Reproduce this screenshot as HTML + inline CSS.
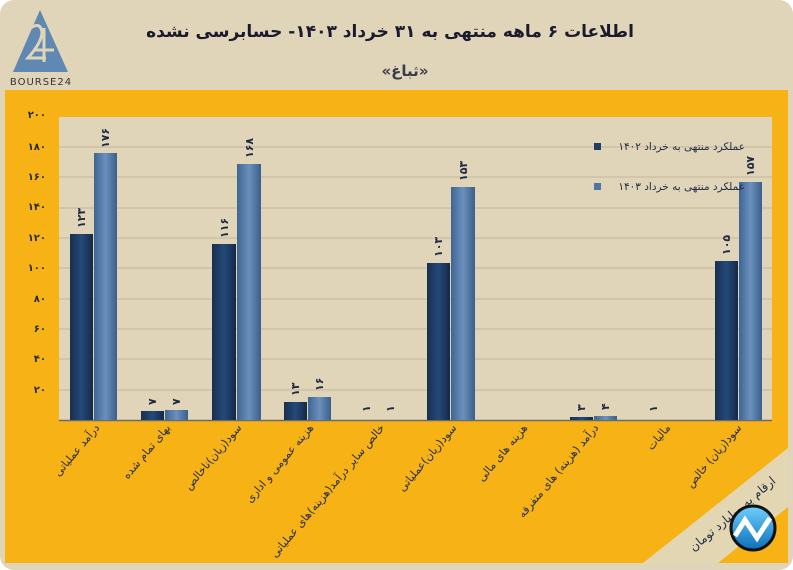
<!DOCTYPE html>
<html><head><meta charset="utf-8"><style>
html,body{margin:0;padding:0;background:#fff}
svg{display:block}
text{font-family:"DejaVu Sans","Liberation Sans",sans-serif}
</style></head><body>
<svg width="793" height="570" viewBox="0 0 793 570" xmlns="http://www.w3.org/2000/svg">
<defs>
<linearGradient id="gd" x1="0" x2="1" y1="0" y2="0">
<stop offset="0" stop-color="#17304f"/><stop offset="0.5" stop-color="#24497a"/><stop offset="1" stop-color="#142a46"/></linearGradient>
<linearGradient id="gl" x1="0" x2="1" y1="0" y2="0">
<stop offset="0" stop-color="#3f6592"/><stop offset="0.5" stop-color="#6b90bd"/><stop offset="1" stop-color="#3a5f8a"/></linearGradient>
<linearGradient id="gc" x1="0" x2="0" y1="0" y2="1">
<stop offset="0" stop-color="#6fd0ff"/><stop offset="1" stop-color="#0a6fb8"/></linearGradient>
</defs>
<rect x="0" y="0" width="793" height="570" rx="14" fill="#e0d5b8"/>
<rect x="5" y="90" width="783" height="473" fill="#f7b216"/>
<polygon points="788,448 788,507 718,563 643,563" fill="#e3d6b3"/>
<polygon points="40,10 13,72 68,72" fill="#5f88b3"/>
<path d="M28,30 Q40,20 42,32 Q42,42 28,58 L46,58 M44,28 L44,62 M34,50 L54,50" stroke="#e0d5b8" stroke-width="3" fill="none"/>
<text x="41" y="85" font-size="10" fill="#333" text-anchor="middle" letter-spacing="1">BOURSE24</text>
<text x="390" y="37" font-size="17" font-weight="bold" fill="#1a1a2e" text-anchor="middle" direction="rtl">اطلاعات ۶ ماهه منتهی به ۳۱ خرداد ۱۴۰۳- حسابرسی نشده</text>
<text x="405" y="76" font-size="15" font-weight="bold" fill="#3a3a4e" text-anchor="middle">«ثباغ»</text>
<rect x="59" y="117" width="713" height="303" fill="#e0d5b8"/>
<g stroke="#c3b89c" stroke-width="1">
<line x1="59" x2="772" y1="147" y2="147"/><line x1="59" x2="772" y1="177" y2="177"/>
<line x1="59" x2="772" y1="208" y2="208"/><line x1="59" x2="772" y1="238" y2="238"/>
<line x1="59" x2="772" y1="268" y2="268"/><line x1="59" x2="772" y1="299" y2="299"/>
<line x1="59" x2="772" y1="329" y2="329"/><line x1="59" x2="772" y1="359" y2="359"/>
<line x1="59" x2="772" y1="390" y2="390"/>
</g>
<line x1="59" x2="772" y1="420.5" y2="420.5" stroke="#6b6b6b" stroke-width="1.5"/>
<g font-size="10" font-weight="bold" fill="#1f2a44" text-anchor="end">
<text x="46" y="118">۲۰۰</text><text x="46" y="150">۱۸۰</text><text x="46" y="180">۱۶۰</text>
<text x="46" y="210">۱۴۰</text><text x="46" y="241">۱۲۰</text><text x="46" y="271">۱۰۰</text>
<text x="46" y="302">۸۰</text><text x="46" y="332">۶۰</text><text x="46" y="362">۴۰</text>
<text x="46" y="393">۲۰</text>
</g>
<g>
<rect x="70" y="234" width="23" height="186" fill="url(#gd)"/><rect x="94" y="153" width="23" height="267" fill="url(#gl)"/>
<rect x="141" y="411" width="23" height="9" fill="url(#gd)"/><rect x="165" y="410" width="23" height="10" fill="url(#gl)"/>
<rect x="212" y="244" width="24" height="176" fill="url(#gd)"/><rect x="237" y="164" width="24" height="256" fill="url(#gl)"/>
<rect x="284" y="402" width="23" height="18" fill="url(#gd)"/><rect x="308" y="397" width="23" height="23" fill="url(#gl)"/>
<rect x="427" y="263" width="23" height="157" fill="url(#gd)"/><rect x="451" y="187" width="24" height="233" fill="url(#gl)"/>
<rect x="570" y="417" width="23" height="3" fill="url(#gd)"/><rect x="594" y="416" width="23" height="4" fill="url(#gl)"/>
<rect x="715" y="261" width="23" height="159" fill="url(#gd)"/><rect x="739" y="182" width="23" height="238" fill="url(#gl)"/>
</g>
<g font-size="11" font-weight="bold" fill="#1f2a44" text-anchor="start">
<text transform="translate(85,228) rotate(-90)">۱۲۳</text>
<text transform="translate(109,148) rotate(-90)">۱۷۶</text>
<text transform="translate(156,405) rotate(-90)">۷</text>
<text transform="translate(180,405) rotate(-90)">۷</text>
<text transform="translate(228,238) rotate(-90)">۱۱۶</text>
<text transform="translate(253,158) rotate(-90)">۱۶۸</text>
<text transform="translate(299,396) rotate(-90)">۱۳</text>
<text transform="translate(323,391) rotate(-90)">۱۶</text>
<text transform="translate(370,412) rotate(-90)">۱</text>
<text transform="translate(394,412) rotate(-90)">۱</text>
<text transform="translate(442,257) rotate(-90)">۱۰۳</text>
<text transform="translate(467,181) rotate(-90)">۱۵۳</text>
<text transform="translate(585,411) rotate(-90)">۳</text>
<text transform="translate(609,410) rotate(-90)">۴</text>
<text transform="translate(657,412) rotate(-90)">۱</text>
<text transform="translate(730,255) rotate(-90)">۱۰۵</text>
<text transform="translate(754,176) rotate(-90)">۱۵۷</text>
</g>
<rect x="594" y="143" width="7" height="7" fill="#1f3f66"/>
<text x="745" y="150" font-size="10.5" fill="#1f2a44" text-anchor="end">عملکرد منتهی به خرداد ۱۴۰۲</text>
<rect x="594" y="183" width="7" height="7" fill="#4f76a2"/>
<text x="745" y="190" font-size="10.5" fill="#1f2a44" text-anchor="end">عملکرد منتهی به خرداد ۱۴۰۳</text>
<g font-size="11" fill="#1f2a44" text-anchor="end">
<text transform="translate(100,428) rotate(-50)">درآمد عملیاتی</text>
<text transform="translate(171,428) rotate(-50)">بهای تمام شده</text>
<text transform="translate(242,428) rotate(-50)">سود(زیان)ناخالص</text>
<text transform="translate(314,428) rotate(-50)">هزینه عمومی و اداری</text>
<text transform="translate(385,428) rotate(-50)">خالص سایر درآمد(هزینه)های عملیاتی</text>
<text transform="translate(457,428) rotate(-50)">سود(زیان)عملیاتی</text>
<text transform="translate(528,428) rotate(-50)">هزینه های مالی</text>
<text transform="translate(599,428) rotate(-50)">درآمد (هزینه) های متفرقه</text>
<text transform="translate(671,428) rotate(-50)">مالیات</text>
<text transform="translate(742,428) rotate(-50)">سود(زیان) خالص</text>
</g>
<text transform="translate(735,517) rotate(-40)" font-size="12" fill="#1f2a44" text-anchor="middle">ارقام به میلیارد تومان</text>
<circle cx="753" cy="528" r="22" fill="url(#gc)" stroke="#111" stroke-width="3"/>
<path d="M735,536 L745,520 L757,538 L770,518" stroke="#fff" stroke-width="5" fill="none"/>
</svg>
</body></html>
